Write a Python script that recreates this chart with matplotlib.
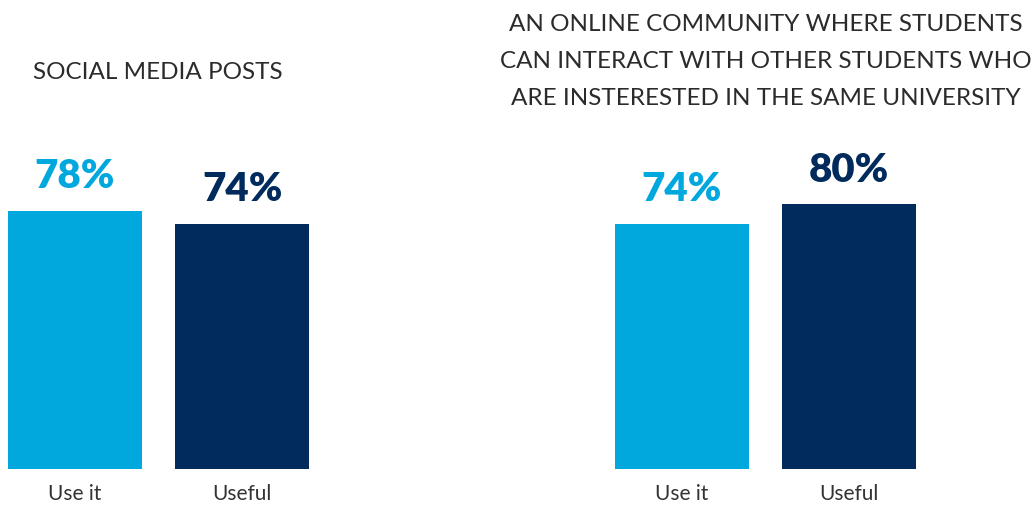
import matplotlib
matplotlib.use("Agg")
import matplotlib.pyplot as plt

# data
categories = ["Use it", "Useful"]
social_media = [78, 74]
online_community = [74, 80]
titles = [["SOCIAL MEDIA POSTS"],
          ["AN ONLINE COMMUNITY WHERE STUDENTS",
           "CAN INTERACT WITH OTHER STUDENTS WHO",
           "ARE INSTERESTED IN THE SAME UNIVERSITY"]]
colors = ["#00A8DE", "#002B5C"]

W, H = 1036, 506
fig = plt.figure(figsize=(W / 100, H / 100), dpi=100)

def px(x, y):
    return x / W, 1 - y / H

panels = [(8, social_media), (615, online_community)]
for left, values in panels:
    ax = fig.add_axes([left / W, 36 / H, 301 / W, 331 / H])
    xs = range(len(values))
    ax.bar(xs, values, width=0.8, color=colors)
    ax.set_xlim(-0.4, 1.4)
    ax.set_ylim(0, 100)
    for x, v, c in zip(xs, values, colors):
        ax.annotate(f"{v}%", (x, v), xytext=(0, 17), textcoords="offset points",
                    ha="center", va="baseline", color=c, fontsize=29,
                    fontweight="heavy", family="Lato")
    ax.set_xticks(list(xs))
    ax.set_xticklabels(categories, fontsize=15, color="#333333", family="Lato")
    ax.tick_params(axis="x", length=0, pad=10)
    ax.set_yticks([])
    for s in ax.spines.values():
        s.set_visible(False)

# titles
fig.text(*px(158, 79), titles[0][0], ha="center", va="baseline",
         fontsize=17.5, color="#2b2b2b", family="Lato")
for i, line in enumerate(titles[1]):
    fig.text(*px(766, 31 + 37 * i), line, ha="center", va="baseline",
             fontsize=17.5, color="#2b2b2b", family="Lato")

fig.savefig("out.png", dpi=100)
